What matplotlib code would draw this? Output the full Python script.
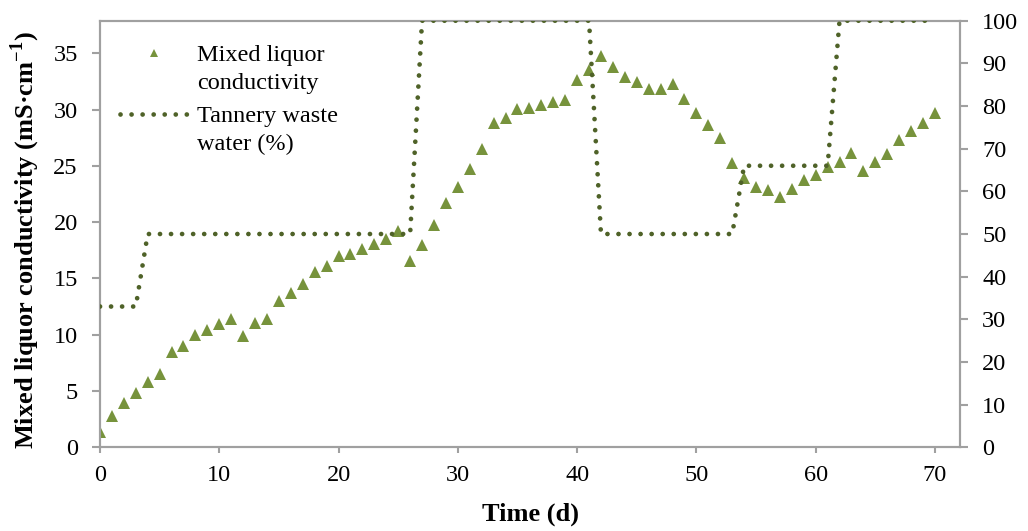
import matplotlib
matplotlib.use("Agg")
import numpy as np
import matplotlib.pyplot as plt
from matplotlib.lines import Line2D
from matplotlib.legend_handler import HandlerLine2D

plt.rcParams['font.family'] = ['Liberation Serif', 'DejaVu Serif']
plt.rcParams['mathtext.fontset'] = 'custom'
plt.rcParams['mathtext.rm'] = 'Liberation Serif'
plt.rcParams['mathtext.bf'] = 'Liberation Serif:bold'

# Data
days = list(range(0, 71))
conductivity = [1.32, 2.81, 3.91, 4.80, 5.80, 6.49, 8.48, 9.03, 9.97, 10.42,
                10.97, 11.37, 9.92, 11.02, 11.37, 13.01, 13.75, 14.50, 15.54, 16.14,
                16.99, 17.14, 17.63, 18.08, 18.53, 19.22, 16.54, 17.93, 19.72, 21.66,
                23.15, 24.75, 26.54, 28.82, 29.27, 30.02, 30.12, 30.42, 30.71, 30.86,
                32.60, 33.55, 34.79, 33.80, 32.90, 32.45, 31.81, 31.81, 32.30, 30.91,
                29.67, 28.67, 27.48, 25.29, 23.90, 23.15, 22.86, 22.21, 22.95, 23.75,
                24.15, 24.90, 25.39, 26.14, 24.55, 25.39, 26.09, 27.28, 28.13, 28.77,
                29.72]
tannery_days = [0, 3, 4, 26, 27, 41, 42, 53, 54, 61, 62, 70]
tannery_pct = [33, 33, 50, 50, 100, 100, 50, 50, 66, 66, 100, 100]

x_ticks = [0, 10, 20, 30, 40, 50, 60, 70]
y_left_ticks = [0, 5, 10, 15, 20, 25, 30, 35]
y_right_ticks = [0, 10, 20, 30, 40, 50, 60, 70, 80, 90, 100]

marker_color = '#77933C'
line_color = '#4F6228'
spine_color = '#A0A0A0'
fs = 17.5
lfs = 19
dot_lw = 3.4
dot_dash = [0.01, 2.33]

fig = plt.figure(figsize=(10.28, 5.31), dpi=100)
ax = fig.add_axes([100/1028, 1-447.3/531, 860/1028, 426.6/531])
ax2 = ax.twinx()

ax.plot(days, conductivity, linestyle='none', marker='^', markersize=8.0,
        color=marker_color, markeredgewidth=0, zorder=3)
ln, = ax2.plot(tannery_days, tannery_pct, color=line_color, linewidth=dot_lw,
               dash_capstyle='round', zorder=3)
ln.set_dashes(dot_dash)

ax.set_xlim(0, 72.1)
ax.set_ylim(0, 37.9)
ax2.set_ylim(0, 100)
ax.set_xticks(x_ticks)
ax.set_yticks(y_left_ticks)
ax2.set_yticks(y_right_ticks)

for a in (ax, ax2):
    for s in a.spines.values():
        s.set_color(spine_color)
        s.set_linewidth(1.5)
    a.tick_params(axis='both', colors=spine_color, labelcolor='black',
                  labelsize=fs, width=1.5, direction='out')

ax.tick_params(axis='y', pad=10.5, length=5.5)
ax.tick_params(axis='x', pad=8, length=4.5)
ax2.tick_params(axis='y', pad=10.5, length=5.5)

ax.set_xlabel('Time (d)', fontsize=lfs, fontweight='bold', labelpad=12.5)
ax.set_ylabel('Mixed liquor conductivity (mS·cm$^{\\mathbf{-1}}$)', fontsize=lfs,
              fontweight='bold')
ax.yaxis.set_label_coords(-0.068, 0.487)


class FirstLineHandler(HandlerLine2D):
    def __init__(self, shift, **kw):
        super().__init__(**kw)
        self.shift = shift

    def create_artists(self, legend, orig_handle, xdescent, ydescent, width,
                       height, fontsize, trans):
        arts = super().create_artists(legend, orig_handle, xdescent, ydescent,
                                      width, height, fontsize, trans)
        for a in arts:
            a.set_ydata(np.asarray(a.get_ydata()) + self.shift)
        return arts


h1 = Line2D([], [], linestyle='none', marker='^', markersize=6.0,
            color=marker_color, markeredgewidth=0)
h2 = Line2D([], [], color=line_color, linewidth=dot_lw, dash_capstyle='round')
h2.set_dashes(dot_dash)
shift = 11.4
leg = ax2.legend([h1, h2], ['Mixed liquor\nconductivity', 'Tannery waste\nwater (%)'],
                 loc='upper left', bbox_to_anchor=(0.0233, 0.943), frameon=False,
                 fontsize=fs, handlelength=2.8, handletextpad=0.37,
                 labelspacing=0.51, borderaxespad=0, borderpad=0,
                 handler_map={h1: FirstLineHandler(shift, numpoints=1),
                              h2: FirstLineHandler(shift)})
for t in leg.get_texts():
    t.set_linespacing(1.42)

fig.savefig('out.png', dpi=100)
